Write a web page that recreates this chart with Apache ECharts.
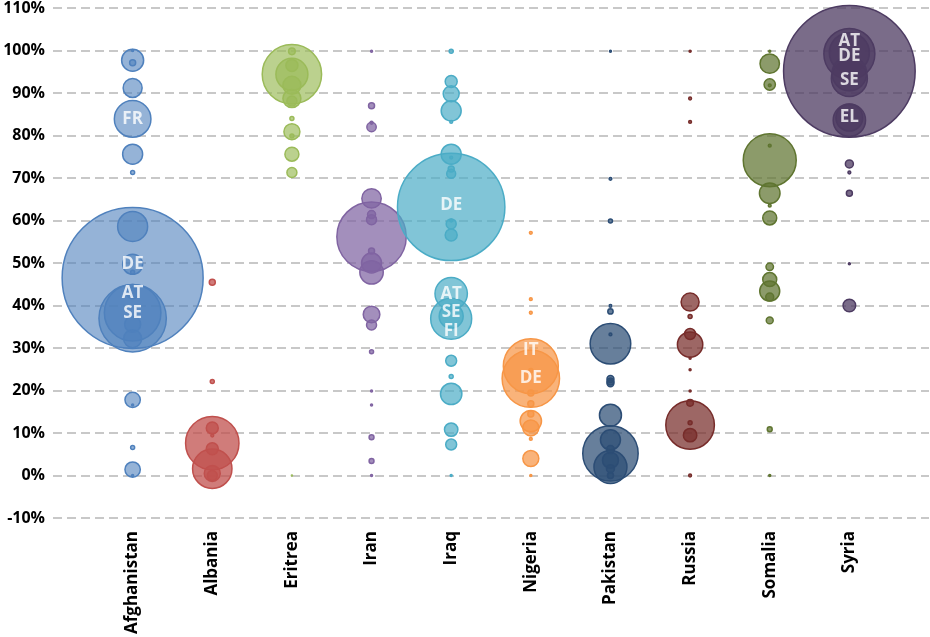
<!DOCTYPE html>
<html>
<head>
<meta charset="utf-8">
<title>Bubble chart</title>
<script src="https://cdn.jsdelivr.net/npm/echarts@6/dist/echarts.min.js"></script>
<style>
  html, body { margin: 0; padding: 0; background: #fff; }
  #chart { width: 930px; height: 637px; }
</style>
</head>
<body>
<div id="chart"></div>
<script>
// categories (x = 1..10)
var countries = ['Afghanistan', 'Albania', 'Eritrea', 'Iran', 'Iraq', 'Nigeria', 'Pakistan', 'Russia', 'Somalia', 'Syria'];

// [share %, bubble size] per country
var afghanistan = [[100, 1], [97.7, 121], [97.1, 9], [91.2, 90], [83.9, 335], [75.6, 100], [71.3, 4], [58.6, 225], [49.7, 100], [47.8, 4], [46.5, 4970], [37.0, 1135], [38.3, 800], [43.0, 36], [35.6, 64], [32.2, 81], [17.8, 59], [16.6, 1], [6.6, 4], [1.4, 59], [0, 1]];
var albania = [[45.5, 9], [22.1, 4], [7.6, 713], [1.6, 388], [11.2, 36], [9.4, 2], [6.3, 36], [0.5, 64], [0, 25]];
var eritrea = [[99.8, 11], [94.4, 882], [94.4, 256], [96.5, 36], [91.8, 81], [88.7, 81], [88.1, 25], [84, 4], [80.9, 64], [79.9, 4], [75.6, 49], [71.3, 25], [0, 0.3]];
var iran = [[99.8, 1], [87, 9], [83, 2], [82, 22], [65.2, 94], [61.4, 16], [60.2, 25], [56.2, 1204], [52.8, 9], [50, 100], [47.8, 137], [37.9, 69], [35.4, 25], [29.1, 4], [19.9, 1], [16.6, 1], [9.0, 6], [3.4, 6], [0, 1]];
var iraq = [[99.8, 4], [92.7, 36], [89.8, 64], [85.8, 100], [83.2, 2], [75.6, 100], [74.8, 2], [72.1, 9], [71, 20], [63.2, 2884], [60, 2], [59.2, 25], [56.6, 36], [42.8, 262], [36.9, 420], [37.5, 144], [27, 30], [23.3, 4], [19.2, 114], [10.8, 45], [7.3, 30], [0, 1]];
var nigeria = [[57.1, 2], [41.5, 2], [38.3, 2], [25.7, 756], [22.8, 824], [24.7, 4], [19.4, 9], [16.9, 9], [14.5, 9], [12.8, 114], [11.2, 64], [8.6, 2], [4.0, 64], [0, 1]];
var pakistan = [[99.8, 1], [69.8, 2], [59.9, 4], [39.9, 2], [38.6, 7], [33.2, 2], [31.0, 412], [22.7, 12], [22.1, 12], [21.7, 12], [14.2, 121], [8.4, 100], [5.2, 767], [6.1, 16], [3.6, 64], [2.0, 272], [1.6, 16], [0, 9]];
var russia = [[99.8, 1], [88.7, 2], [83.2, 2], [40.8, 81], [37.4, 4], [33.3, 30], [30.8, 161], [27.6, 1], [24.9, 1], [19.9, 1], [17.1, 11], [11.9, 590], [12.4, 4], [9.5, 45], [0, 2]];
var somalia = [[99.8, 1], [96.9, 94], [92, 32], [91.8, 2], [77.6, 2], [74.2, 702], [66.4, 106], [63.5, 2], [60.6, 49], [49.1, 14], [46.1, 49], [43.4, 100], [42, 16], [36.5, 12], [10.9, 6], [0, 1]];
var syria = [[95.1, 4330], [99.2, 650], [99.5, 400], [93.4, 324], [94.6, 300], [83.6, 262], [84.2, 180], [73.3, 16], [71.3, 2], [66.4, 9], [49.8, 1], [40, 40]];

var allData = [afghanistan, albania, eritrea, iran, iraq, nigeria, pakistan, russia, somalia, syria];

// bubble labels: [country no, share %, code]
var bubbleLabels = [
    [1, 83.9, 'FR'], [1, 49.7, 'DE'], [1, 43.0, 'AT'], [1, 38.3, 'SE'],
    [5, 63.5, 'DE'], [5, 42.6, 'AT'], [5, 38.5, 'SE'], [5, 34.0, 'FI'],
    [6, 29.5, 'IT'], [6, 22.9, 'DE'],
    [10, 102.3, 'AT'], [10, 98.6, 'DE'], [10, 93.1, 'SE'], [10, 84.4, 'EL']
];

var yTicks = { min: -10, max: 110, step: 10 };

var borderColors = ['#4f81bd', '#c0504d', '#9bbb59', '#8064a2', '#4bacc6', '#f79646', '#2c4d75', '#772c2a', '#5f7530', '#4d3b62'];
var fillAlpha = [0.6, 0.75, 0.68, 0.72, 0.7, 0.72, 0.72, 0.72, 0.72, 0.75];

function hexToRgba(hex, a) {
    var n = parseInt(hex.slice(1), 16);
    return 'rgba(' + (n >> 16 & 255) + ',' + (n >> 8 & 255) + ',' + (n & 255) + ',' + a + ')';
}

var chart = echarts.init(document.getElementById('chart'));

var series = allData.map(function (rows, i) {
    // bigger bubbles first so the small ones stay visible on top
    var pts = rows.slice().sort(function (a, b) { return b[1] - a[1]; }).map(function (r) {
        return [i + 1, r[0], r[1]];
    });
    return {
        name: countries[i],
        type: 'scatter',
        data: pts,
        symbolSize: function (v) { return 2 * Math.sqrt(v[2]); },
        itemStyle: {
            color: hexToRgba(borderColors[i], fillAlpha[i]),
            borderColor: borderColors[i],
            borderWidth: 1.5,
            opacity: 1
        },
        emphasis: { disabled: true },
        silent: true
    };
});

series.push({
    name: 'labels',
    type: 'scatter',
    z: 10,
    symbolSize: 1,
    itemStyle: { color: 'rgba(0,0,0,0)' },
    data: bubbleLabels,
    label: {
        show: true,
        position: 'inside',
        formatter: function (p) { return p.value[2]; },
        color: '#fff',
        fontWeight: 'bold',
        fontSize: 17,
        fontFamily: 'Open Sans'
    },
    silent: true
});

var option = {
    animation: false,
    backgroundColor: '#fff',
    grid: { left: 53, right: 1, top: 8, bottom: 117, containLabel: false },
    xAxis: {
        type: 'value',
        min: 0,
        max: 11,
        interval: 1,
        axisLine: { show: false },
        axisTick: { show: false },
        splitLine: { show: false },
        axisLabel: {
            rotate: 90,
            margin: 13,
            color: '#000',
            fontWeight: 'bold',
            fontSize: 17,
            fontFamily: 'Open Sans',
            formatter: function (v) { return countries[v - 1] || ''; }
        }
    },
    yAxis: {
        type: 'value',
        min: yTicks.min,
        max: yTicks.max,
        interval: yTicks.step,
        axisLine: { show: false },
        axisTick: { show: false },
        axisLabel: {
            margin: 8,
            color: '#000',
            fontWeight: 'bold',
            fontSize: 16,
            fontFamily: 'Open Sans',
            formatter: '{value}%'
        },
        splitLine: {
            show: true,
            lineStyle: { color: '#c8c8c8', width: 2, type: [9, 5] }
        }
    },
    series: series
};

chart.setOption(option);
</script>
</body>
</html>
